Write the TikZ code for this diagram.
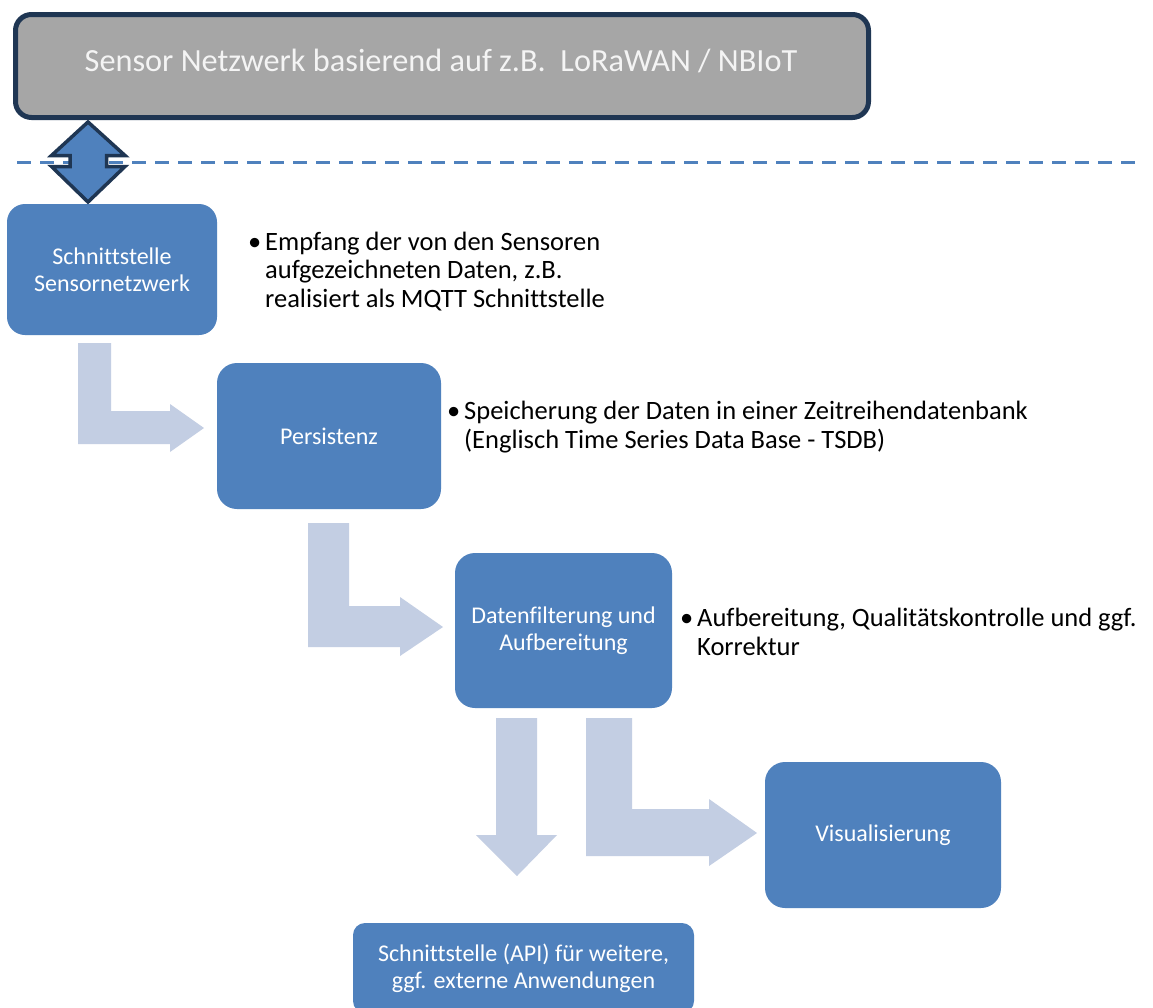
\documentclass[tikz,border=0pt]{standalone}
\usepackage{fontspec}
\setmainfont{Carlito}[Ligatures=CommonOff]
\definecolor{boxblue}{HTML}{4F81BD}
\definecolor{arrowlight}{HTML}{C3CEE3}
\definecolor{navy}{HTML}{1F3653}
\definecolor{titlegray}{HTML}{A6A6A6}
\definecolor{titletext}{HTML}{F4F4F4}
\tikzset{
  box/.style={rectangle, rounded corners=18pt, fill=boxblue, text=white, align=center, inner sep=0pt,
    font=\fontsize{24}{27}\selectfont},
  bul/.style={align=left, inner sep=0pt, text=black, font=\fontsize{26.5}{28.5}\selectfont},
  blockarrow/.style={fill=arrowlight, draw=none},
  dashline/.style={draw=boxblue, line width=3pt, dash pattern=on 13.5pt off 9.5pt},
}
\begin{document}
\begin{tikzpicture}[x=1pt, y=-1pt]
\clip (0,0) rectangle (1153,1007);
\fill[white] (0,0) rectangle (1153,1007);

% title bar
\node[rectangle, rounded corners=16pt, fill=titlegray, draw=navy, line width=5pt,
  minimum width=853pt, minimum height=103pt, inner sep=0pt] (net) at (442,66) {};
\node[text=titletext, font=\fontsize{32.3}{36}\selectfont, inner sep=0pt, anchor=base] (title) at (441,71)
  {Sensor Netzwerk basierend auf z.B.\ \ LoRaWAN / NBIoT};

% dashed separator
\coordinate (dl) at (17,162);
\coordinate (dr) at (1141,162);
\draw[dashline] (dl) -- (dr);

% boxes
\node[box, minimum width=210pt, minimum height=131pt] (s1) at (112,269.5) {Schnittstelle\\Sensornetzwerk};
\node[box, rounded corners=20pt, minimum width=224pt, minimum height=146pt] (s2) at (329,436) {Persistenz};
\node[box, rounded corners=20pt, minimum width=217pt, minimum height=155pt] (s3) at (563.5,630.5) {Datenfilterung und\\Aufbereitung};
\node[box, rounded corners=20pt, minimum width=236pt, minimum height=146pt] (s4) at (883,835) {Visualisierung};
\node[box, rounded corners=12pt, minimum width=341pt, minimum height=90pt] (s5) at (523.5,968) {Schnittstelle (API) für weitere,\\ggf. externe Anwendungen};

% double arrow between network and interface
\draw[fill=boxblue, draw=navy, line width=3.5pt, line join=miter]
  (88,122) -- (125,155.5) -- (106.7,155.5) -- (106.7,166.5) -- (125,166.5) -- (88,202)
  -- (51.5,166.5) -- (70,166.5) -- (70,155.5) -- (51.5,155.5) -- cycle;

% block arrows
\fill[blockarrow] (78,343) -- (111,343) -- (111,411) -- (170,411) -- (170,404) -- (204,428)
  -- (170,452) -- (170,444) -- (78,444) -- cycle;
\fill[blockarrow] (308,523) -- (349,523) -- (349,606) -- (400,606) -- (400,597) -- (443,627)
  -- (400,656) -- (400,647) -- (308,647) -- cycle;
\fill[blockarrow] (496,718) -- (537,718) -- (537,835) -- (557,835) -- (517,876) -- (476,835)
  -- (496,835) -- cycle;
\fill[blockarrow] (586,718) -- (632,718) -- (632,809) -- (709,809) -- (709,799) -- (757,833)
  -- (709,866) -- (709,856) -- (586,856) -- cycle;

% bullet texts (anchor base = baseline of the last line)
\node[bul, anchor=base west] (t1) at (265,307)
  {\llap{•\hspace{4pt}}Empfang der von den Sensoren\\aufgezeichneten Daten, z.B.\\realisiert als MQTT Schnittstelle};
\node[bul, anchor=base west] (t2) at (464,448)
  {\llap{•\hspace{4pt}}Speicherung der Daten in einer Zeitreihendatenbank\\(Englisch Time Series Data Base - TSDB)};
\node[bul, anchor=base west] (t3) at (697,655)
  {\llap{•\hspace{4pt}}Aufbereitung, Qualitätskontrolle und ggf.\\Korrektur};
\end{tikzpicture}
\end{document}
